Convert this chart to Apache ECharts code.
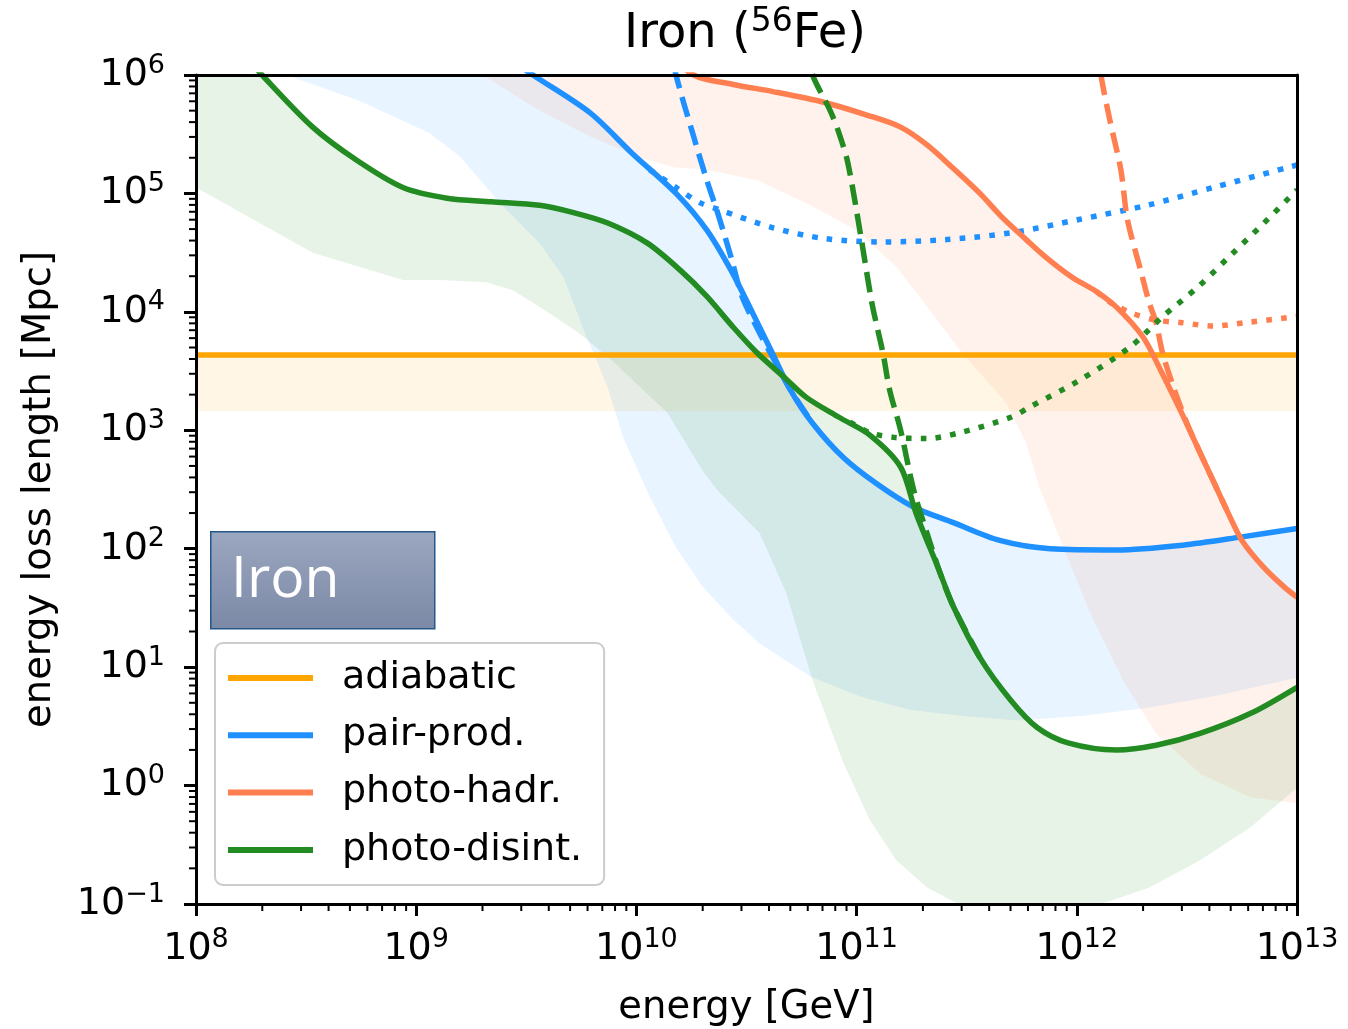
<!DOCTYPE html>
<html>
<head>
<meta charset="utf-8">
<title>Iron (56Fe) energy loss lengths</title>
<script src="https://cdn.jsdelivr.net/npm/echarts@6/dist/echarts.min.js"></script>
<style>
  html, body { margin: 0; padding: 0; background: #ffffff; }
  #chart { width: 1348px; height: 1029px; }
</style>
</head>
<body>
<div id="chart"></div>
<script>
// Energy-loss lengths of iron nuclei.
// Every pair below is [log10(E / GeV), log10(L / Mpc)].

const xTickExponents = [8, 9, 10, 11, 12, 13];
const yTickExponents = [-1, 0, 1, 2, 3, 4, 5, 6];

// adiabatic (cosmological expansion)
const adiabaticLine = [[8, 3.635], [13, 3.635]];
const adiabaticBandLow = [[8, 3.16], [13, 3.16]];

// e+e- pair production
const pairTotal = [
  [9.29, 6.30], [9.53, 6.00], [9.79, 5.68], [9.98, 5.34], [10.18, 5.00], [10.32, 4.69],
  [10.43, 4.35], [10.52, 4.02], [10.61, 3.68], [10.70, 3.34], [10.80, 3.06], [10.94, 2.77],
  [11.09, 2.55], [11.26, 2.35], [11.44, 2.22], [11.65, 2.07], [11.88, 2.00], [12.18, 1.99],
  [12.48, 2.03], [12.75, 2.10], [13.00, 2.17]
];
const pairCmb = [
  [10.15, 6.30], [10.18, 6.00], [10.26, 5.48], [10.32, 5.11], [10.37, 4.83], [10.43, 4.46],
  [10.48, 4.13], [10.56, 3.82], [10.63, 3.58], [10.70, 3.34], [10.80, 3.06]
];
const pairEbl = [
  [10.06, 5.20], [10.18, 5.05], [10.29, 4.92], [10.38, 4.86], [10.62, 4.71], [10.85, 4.62],
  [11.11, 4.59], [11.41, 4.61], [11.71, 4.67], [12.01, 4.78], [12.32, 4.90], [12.62, 5.05],
  [13.00, 5.24]
];
const pairBandLow = [
  [8.11, 6.21], [8.41, 6.00], [8.73, 5.79], [9.06, 5.51], [9.20, 5.31], [9.38, 4.92],
  [9.56, 4.58], [9.67, 4.29], [9.76, 3.85], [9.87, 3.36], [9.94, 2.94], [10.06, 2.44],
  [10.18, 2.01], [10.30, 1.68], [10.44, 1.40], [10.56, 1.20], [10.79, 0.92], [11.02, 0.75],
  [11.24, 0.64], [11.47, 0.59], [11.73, 0.55], [12.03, 0.59], [12.33, 0.66], [12.64, 0.76],
  [13.00, 0.91]
];

// photo-hadronic interactions
const hadrTotal = [
  [10.11, 6.25], [10.26, 6.00], [10.44, 5.92], [10.62, 5.86], [10.85, 5.77], [11.05, 5.66],
  [11.20, 5.56], [11.32, 5.41], [11.44, 5.21], [11.56, 5.00], [11.66, 4.80], [11.77, 4.61],
  [11.86, 4.46], [11.98, 4.29], [12.09, 4.17], [12.18, 4.04], [12.30, 3.79], [12.38, 3.51],
  [12.47, 3.17], [12.56, 2.81], [12.62, 2.57], [12.68, 2.33], [12.75, 2.07], [12.85, 1.84],
  [12.94, 1.68], [13.00, 1.59]
];
const hadrCmb = [
  [12.10, 6.25], [12.11, 6.00], [12.15, 5.62], [12.20, 5.20], [12.23, 4.78], [12.29, 4.35],
  [12.33, 4.07], [12.36, 3.91], [12.39, 3.65], [12.44, 3.36], [12.50, 3.06], [12.56, 2.81],
  [12.62, 2.57], [12.68, 2.33]
];
const hadrEbl = [
  [12.09, 4.17], [12.16, 4.07], [12.25, 3.99], [12.36, 3.93], [12.47, 3.91], [12.62, 3.88],
  [12.77, 3.91], [13.00, 3.96]
];
const hadrBandLow = [
  [9.11, 6.21], [9.30, 6.00], [9.56, 5.70], [9.79, 5.48], [10.02, 5.30], [10.17, 5.22],
  [10.32, 5.20], [10.55, 5.11], [10.77, 4.92], [11.00, 4.69], [11.18, 4.38], [11.33, 4.02],
  [11.48, 3.65], [11.68, 3.23], [11.77, 2.89], [11.83, 2.52], [11.92, 2.10], [12.06, 1.46],
  [12.21, 0.89], [12.36, 0.44], [12.56, 0.10], [12.79, -0.10], [13.00, -0.15]
];

// photo-disintegration
const disintTotal = [
  [8.18, 6.25], [8.30, 6.00], [8.53, 5.56], [8.73, 5.28], [8.94, 5.05], [9.14, 4.96],
  [9.34, 4.93], [9.56, 4.90], [9.71, 4.84], [9.87, 4.75], [10.05, 4.58], [10.20, 4.35],
  [10.32, 4.13], [10.44, 3.87], [10.55, 3.65], [10.67, 3.45], [10.77, 3.28], [10.92, 3.11],
  [11.06, 2.96], [11.20, 2.69], [11.27, 2.30], [11.37, 1.84], [11.44, 1.51], [11.56, 1.08],
  [11.70, 0.72], [11.82, 0.49], [11.96, 0.36], [12.18, 0.30], [12.36, 0.34], [12.56, 0.44],
  [12.79, 0.61], [13.00, 0.83]
];
const disintCmb = [
  [10.77, 6.25], [10.80, 6.00], [10.88, 5.70], [10.92, 5.51], [10.96, 5.26], [11.02, 4.63],
  [11.07, 4.07], [11.12, 3.65], [11.15, 3.34], [11.20, 3.00], [11.26, 2.49], [11.32, 2.13],
  [11.38, 1.79], [11.44, 1.51], [11.56, 1.08]
];
const disintEbl = [
  [10.97, 3.07], [11.06, 2.98], [11.17, 2.94], [11.32, 2.93], [11.47, 2.98], [11.70, 3.11],
  [11.79, 3.20], [12.01, 3.42], [12.24, 3.70], [12.39, 3.96], [12.55, 4.21], [12.70, 4.48],
  [12.85, 4.75], [13.00, 5.03]
];
const disintBandLow = [
  [7.80, 6.30], [7.80, 5.20], [8.00, 5.05], [8.53, 4.50], [8.94, 4.27], [9.11, 4.27],
  [9.32, 4.25], [9.44, 4.18], [9.58, 4.02], [9.74, 3.82], [9.89, 3.59], [10.02, 3.36],
  [10.14, 3.15], [10.30, 2.66], [10.37, 2.49], [10.56, 2.13], [10.68, 1.63], [10.80, 0.89],
  [10.94, 0.19], [11.06, -0.29], [11.18, -0.63], [11.32, -0.86], [11.45, -0.99], [11.65, -1.09],
  [11.92, -1.07], [12.14, -0.98], [12.33, -0.86], [12.56, -0.63], [12.79, -0.35], [13.00, -0.02]
];

const COLORS = {
  adiabatic: '#FFA500',
  pair: '#1E90FF',
  hadr: '#FF7F50',
  disint: '#228B22'
};
const BAND_FILL = {
  adiabatic: 'rgba(255,165,0,0.1)',
  pair: 'rgba(30,144,255,0.1)',
  hadr: 'rgba(255,127,80,0.1)',
  disint: 'rgba(34,139,34,0.1)'
};

const FONT = 'DejaVu Sans';
const LINE_W = 5.5;
const DASHED = [20.5, 9];
const DOTTED = [5.6, 9.2];

const toPoint = p => [Math.pow(10, p[0]), Math.pow(10, p[1])];
const expOf = v => Math.round(Math.log10(v));
const supText = e => (e < 0 ? '\u2212' + Math.abs(e) : String(e));

function bandSeries(id, low, high, fill) {
  const outline = low.concat(high.slice().reverse()).map(toPoint);
  return {
    id: id,
    type: 'custom',
    clip: true,
    silent: true,
    z: 1,
    data: [[1e10, 1e3]],
    renderItem: function (params, api) {
      return {
        type: 'polygon',
        shape: { points: outline.map(p => api.coord(p)) },
        style: { fill: fill }
      };
    }
  };
}

function lineSeries(name, pts, color, dash, z) {
  return {
    name: name,
    type: 'line',
    data: pts.map(toPoint),
    showSymbol: false,
    symbol: 'none',
    smooth: 0.3,
    clip: true,
    silent: true,
    z: z,
    color: color,
    itemStyle: { color: color },
    lineStyle: { color: color, width: LINE_W, type: dash, cap: 'butt', join: 'round' },
    emphasis: { disabled: true }
  };
}

// minor log ticks (2..9 within each decade)
const xMinor = [];
for (let n = xTickExponents[0]; n < xTickExponents[xTickExponents.length - 1]; n++) {
  for (let k = 2; k <= 9; k++) xMinor.push([k * Math.pow(10, n), Math.pow(10, yTickExponents[0])]);
}
const yMinor = [];
for (let n = yTickExponents[0]; n < yTickExponents[yTickExponents.length - 1]; n++) {
  for (let k = 2; k <= 9; k++) yMinor.push([Math.pow(10, xTickExponents[0]), k * Math.pow(10, n)]);
}

function minorTickSeries(id, data, horizontal) {
  return {
    id: id,
    type: 'custom',
    silent: true,
    clip: false,
    z: 12,
    data: data,
    renderItem: function (params, api) {
      const p = api.coord([api.value(0), api.value(1)]);
      const shape = horizontal
        ? { x1: p[0], y1: p[1], x2: p[0], y2: p[1] + 7 }
        : { x1: p[0] - 7, y1: p[1], x2: p[0], y2: p[1] };
      return { type: 'line', shape: shape, style: { stroke: '#000', lineWidth: 2 } };
    }
  };
}

const tickRich = {
  b: { fontFamily: FONT, fontSize: 38, lineHeight: 46, color: '#000', fontWeight: 'normal' },
  s: { fontFamily: FONT, fontSize: 27, lineHeight: 20, verticalAlign: 'top', color: '#000', fontWeight: 'normal' }
};
const tickFormatter = v => '{b|10}{s|' + supText(expOf(v)) + '}';

const xMin = Math.pow(10, xTickExponents[0]);
const xMax = Math.pow(10, xTickExponents[xTickExponents.length - 1]);
const yMin = Math.pow(10, yTickExponents[0]);
const yMax = Math.pow(10, yTickExponents[yTickExponents.length - 1]);

const chart = echarts.init(document.getElementById('chart'), null, { renderer: 'canvas' });

chart.setOption({
  animation: false,
  backgroundColor: '#ffffff',
  textStyle: { fontFamily: FONT },
  title: {
    text: '{m|Iron (}{s|56}{m|Fe)}',
    left: 745,
    top: 6,
    padding: 0,
    textAlign: 'center',
    textStyle: {
      fontWeight: 'normal',
      rich: {
        m: { fontFamily: FONT, fontSize: 48, lineHeight: 58, color: '#000', fontWeight: 'normal' },
        s: { fontFamily: FONT, fontSize: 33, lineHeight: 26, verticalAlign: 'top', color: '#000', fontWeight: 'normal' }
      }
    }
  },
  grid: { left: 196, top: 75, width: 1101, height: 829, outerBoundsMode: 'none', containLabel: false },
  legend: {
    orient: 'vertical',
    left: 215,
    top: 643,
    data: [
      { name: 'adiabatic', icon: 'rect' },
      { name: 'pair-prod.', icon: 'rect' },
      { name: 'photo-hadr.', icon: 'rect' },
      { name: 'photo-disint.', icon: 'rect' }
    ],
    itemWidth: 85,
    itemHeight: 6,
    itemGap: 13.3,
    padding: [13, 22, 13, 13],
    backgroundColor: 'rgba(255,255,255,0.8)',
    borderColor: '#cccccc',
    borderWidth: 2,
    borderRadius: 8,
    selectedMode: false,
    z: 20,
    textStyle: { fontFamily: FONT, fontSize: 38, color: '#000', lineHeight: 44, padding: [0, 0, 0, 24] }
  },
  xAxis: [
    {
      type: 'log', logBase: 10, min: xMin, max: xMax, splitNumber: 5, position: 'bottom', z: 10,
      axisLine: { show: true, onZero: false, lineStyle: { color: '#000', width: 3 } },
      axisTick: { show: true, length: 12, lineStyle: { color: '#000', width: 3 } },
      minorTick: { show: false },
      splitLine: { show: false },
      axisLabel: { margin: 22, showMinLabel: true, showMaxLabel: true, formatter: tickFormatter, rich: tickRich },
      name: 'energy [GeV]',
      nameLocation: 'middle',
      nameGap: 82,
      nameTextStyle: { fontFamily: FONT, fontSize: 38.5, lineHeight: 44, color: '#000' }
    },
    {
      type: 'log', logBase: 10, min: xMin, max: xMax, position: 'top', z: 10,
      axisLine: { show: true, onZero: false, lineStyle: { color: '#000', width: 3 } },
      axisTick: { show: false }, axisLabel: { show: false }, splitLine: { show: false }
    }
  ],
  yAxis: [
    {
      type: 'log', logBase: 10, min: yMin, max: yMax, splitNumber: 7, position: 'left', z: 10,
      axisLine: { show: true, onZero: false, lineStyle: { color: '#000', width: 3 } },
      axisTick: { show: true, length: 12, lineStyle: { color: '#000', width: 3 } },
      minorTick: { show: false },
      splitLine: { show: false },
      axisLabel: { margin: 31, showMinLabel: true, showMaxLabel: true, formatter: tickFormatter, rich: tickRich },
      name: 'energy loss length [Mpc]',
      nameLocation: 'middle',
      nameGap: 134,
      nameTextStyle: { fontFamily: FONT, fontSize: 38.5, lineHeight: 44, color: '#000' }
    },
    {
      type: 'log', logBase: 10, min: yMin, max: yMax, position: 'right', z: 10,
      axisLine: { show: true, onZero: false, lineStyle: { color: '#000', width: 3 } },
      axisTick: { show: false }, axisLabel: { show: false }, splitLine: { show: false }
    }
  ],
  graphic: [
    {
      type: 'rect',
      left: 210, top: 531, z: 30,
      shape: { width: 224, height: 97 },
      style: {
        fill: new echarts.graphic.LinearGradient(0, 0, 0, 1, [
          { offset: 0, color: '#9ca7c0' },
          { offset: 1, color: '#7b89a6' }
        ]),
        stroke: '#24578a',
        lineWidth: 1.5
      }
    },
    {
      type: 'text',
      left: 231, top: 552, z: 31,
      style: { text: 'Iron', font: '57px "Open Sans"', fill: '#ffffff' }
    }
  ],
  series: [
    bandSeries('band-adiabatic', adiabaticBandLow, adiabaticLine, BAND_FILL.adiabatic),
    bandSeries('band-pair', pairBandLow, pairTotal, BAND_FILL.pair),
    bandSeries('band-hadr', hadrBandLow, hadrTotal, BAND_FILL.hadr),
    bandSeries('band-disint', disintBandLow, disintTotal, BAND_FILL.disint),

    lineSeries('adiabatic', adiabaticLine, COLORS.adiabatic, 'solid', 3),

    lineSeries('pair-prod. CMB', pairCmb, COLORS.pair, DASHED, 4),
    lineSeries('pair-prod. EBL', pairEbl, COLORS.pair, DOTTED, 4),
    lineSeries('pair-prod.', pairTotal, COLORS.pair, 'solid', 4),

    lineSeries('photo-hadr. CMB', hadrCmb, COLORS.hadr, DASHED, 5),
    lineSeries('photo-hadr. EBL', hadrEbl, COLORS.hadr, DOTTED, 5),
    lineSeries('photo-hadr.', hadrTotal, COLORS.hadr, 'solid', 5),

    lineSeries('photo-disint. CMB', disintCmb, COLORS.disint, DASHED, 6),
    lineSeries('photo-disint. EBL', disintEbl, COLORS.disint, DOTTED, 6),
    lineSeries('photo-disint.', disintTotal, COLORS.disint, 'solid', 6),

    minorTickSeries('minor-x', xMinor, true),
    minorTickSeries('minor-y', yMinor, false)
  ]
});
</script>
</body>
</html>
